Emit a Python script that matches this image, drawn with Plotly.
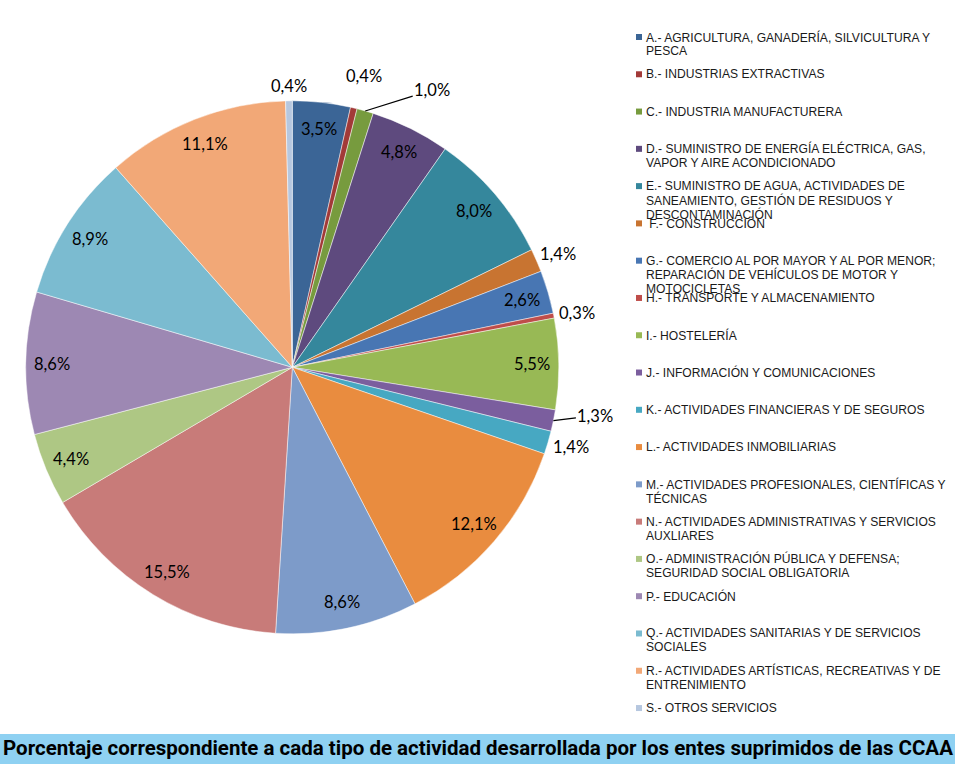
import math
import plotly.graph_objects as go

# ---------------- data ----------------
codes = ["A", "B", "C", "D", "E", "F", "G", "H", "I", "J", "K", "L", "M", "N", "O", "P", "Q", "R", "S"]
categories = [
    "A.- AGRICULTURA, GANADERÍA, SILVICULTURA Y|PESCA",
    "B.- INDUSTRIAS EXTRACTIVAS",
    "C.- INDUSTRIA MANUFACTURERA",
    "D.- SUMINISTRO DE ENERGÍA ELÉCTRICA, GAS,|VAPOR Y AIRE ACONDICIONADO",
    "E.- SUMINISTRO DE AGUA, ACTIVIDADES DE|SANEAMIENTO, GESTIÓN DE RESIDUOS Y|DESCONTAMINACIÓN",
    " F.- CONSTRUCCIÓN",
    "G.- COMERCIO AL POR MAYOR Y AL POR MENOR;|REPARACIÓN DE VEHÍCULOS DE MOTOR Y|MOTOCICLETAS",
    "H.- TRANSPORTE Y ALMACENAMIENTO",
    "I.- HOSTELERÍA",
    "J.- INFORMACIÓN Y COMUNICACIONES",
    "K.- ACTIVIDADES FINANCIERAS Y DE SEGUROS",
    "L.- ACTIVIDADES INMOBILIARIAS",
    "M.- ACTIVIDADES PROFESIONALES, CIENTÍFICAS Y|TÉCNICAS",
    "N.- ACTIVIDADES ADMINISTRATIVAS Y SERVICIOS|AUXLIARES",
    "O.- ADMINISTRACIÓN PÚBLICA Y DEFENSA;|SEGURIDAD SOCIAL OBLIGATORIA",
    "P.- EDUCACIÓN",
    "Q.- ACTIVIDADES SANITARIAS Y DE SERVICIOS|SOCIALES",
    "R.- ACTIVIDADES ARTÍSTICAS, RECREATIVAS Y DE|ENTRENIMIENTO",
    "S.- OTROS SERVICIOS",
]
values = [3.5, 0.4, 1.0, 4.8, 8.0, 1.4, 2.6, 0.3, 5.5, 1.3, 1.4, 12.1, 8.6, 15.5, 4.4, 8.6, 8.9, 11.1, 0.4]
value_labels = ["3,5%", "0,4%", "1,0%", "4,8%", "8,0%", "1,4%", "2,6%", "0,3%", "5,5%", "1,3%",
                "1,4%", "12,1%", "8,6%", "15,5%", "4,4%", "8,6%", "8,9%", "11,1%", "0,4%"]
title_text = "Porcentaje correspondiente a cada tipo de actividad desarrollada por los entes suprimidos de las CCAA"

# ---------------- styles ----------------
colors = ["#3B6596", "#A23A38", "#779B3E", "#5E4A7E", "#35879C", "#C87431", "#4876B3", "#BF4D4A",
          "#98B955", "#7B5E9E", "#47A8C2", "#E98C3F", "#7D9BC9", "#C87B79", "#AEC784", "#9D88B3",
          "#7BBBD0", "#F2A877", "#B6C7DF"]
outside_codes = {"B", "C", "F", "H", "J", "K", "S"}
outside_extra = {"B": 18}                          # extra radial distance for crowded labels
leader_offsets = {"C": (67, -21), "J": (42, -5)}   # labels with a leader line (pixel offsets)
out_gap, half_w, half_h = 6, 18, 9                 # outside label box placement

# ---------------- layout helpers ----------------
W, H = 955, 764
cx, cy, r = 292.3, 367.3, 266.5


def px(x):
    return x / W


def py(y):
    return 1 - y / H


fig = go.Figure()
fig.add_trace(go.Pie(
    labels=[c.replace("|", " ") for c in categories],
    values=values,
    textinfo="none",
    sort=False,
    direction="clockwise",
    rotation=0,
    marker=dict(colors=colors, line=dict(color="rgba(255,255,255,0.8)", width=0.6)),
    domain=dict(x=[px(cx - r), px(cx + r)], y=[py(cy + r), py(cy - r)]),
    showlegend=False,
    hoverinfo="skip",
))

annotations = []
shapes = []
label_font = dict(family="Lato, Carlito, sans-serif", size=16.5, color="black")

# data labels, placed along each slice's mid angle
total = sum(values)
cum = 0.0
for code, v, txt in zip(codes, values, value_labels):
    mid = (cum + v / 2) / total * 2 * math.pi
    cum += v
    sx, sy = math.sin(mid), -math.cos(mid)
    if code in leader_offsets:
        ex, ey = cx + r * sx, cy + r * sy
        ax, ay = leader_offsets[code]
        annotations.append(dict(text=txt, xref="paper", yref="paper", x=px(ex), y=py(ey),
                                ax=ax, ay=ay, showarrow=True, arrowhead=0, arrowwidth=1.2,
                                arrowcolor="black", standoff=0, font=label_font))
    elif code in outside_codes:
        d = r + out_gap + outside_extra.get(code, 0)
        lx = cx + d * sx + half_w * sx
        ly = cy + d * sy + half_h * sy
        annotations.append(dict(text=txt, xref="paper", yref="paper", x=px(lx), y=py(ly),
                                xanchor="center", yanchor="middle", showarrow=False, font=label_font))
    else:
        d = r * 0.9
        annotations.append(dict(text=txt, xref="paper", yref="paper", x=px(cx + d * sx), y=py(cy + d * sy),
                                xanchor="center", yanchor="middle", showarrow=False, font=label_font))

# legend (fixed spacing, like the original)
leg_top, leg_step, line_step = 37.0, 37.28, 14.0
for i, cat in enumerate(categories):
    y0 = leg_top + i * leg_step
    shapes.append(dict(type="rect", xref="paper", yref="paper",
                       x0=px(636), x1=px(642), y0=py(y0 + 3), y1=py(y0 - 3),
                       fillcolor=colors[i], line=dict(width=0)))
    for j, line in enumerate(cat.split("|")):
        annotations.append(dict(text=line, xref="paper", yref="paper",
                                x=px(644), y=py(y0 + j * line_step),
                                xanchor="left", yanchor="middle", showarrow=False,
                                font=dict(family="Liberation Sans, Arial, sans-serif", size=12.1, color="#1a1a1a")))

# title bar
shapes.append(dict(type="rect", xref="paper", yref="paper", x0=0, x1=1, y0=0, y1=py(734),
                   fillcolor="#8FD1F2", line=dict(width=0), layer="below"))
annotations.append(dict(text="<b>" + title_text + "</b>", xref="paper", yref="paper",
                        x=px(1), y=py(748), xanchor="left", yanchor="middle", showarrow=False,
                        font=dict(family="Roboto, sans-serif", size=20.5, color="black")))

fig.update_layout(
    width=W, height=H,
    margin=dict(l=0, r=0, t=0, b=0),
    paper_bgcolor="white",
    plot_bgcolor="white",
    annotations=annotations,
    shapes=shapes,
)

fig.write_html("out.html")
